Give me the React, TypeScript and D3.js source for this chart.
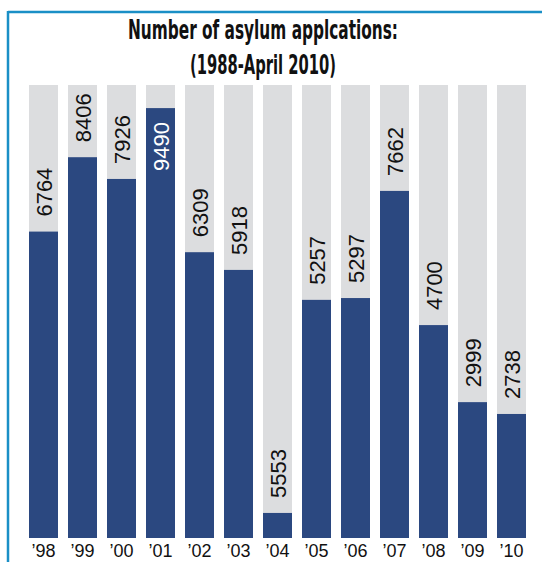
import React from "react";
import * as d3 from "d3";

const years = ["’98", "’99", "’00", "’01", "’02", "’03", "’04", "’05", "’06", "’07", "’08", "’09", "’10"];
const values = [6764, 8406, 7926, 9490, 6309, 5918, 553, 5257, 5297, 7662, 4700, 2999, 2738];
const valueLabels = ["6764", "8406", "7926", "9490", "6309", "5918", "5553", "5257", "5297", "7662", "4700", "2999", "2738"];
const titleLines = ["Number of asylum applcations:", "(1988-April 2010)"];
const yMax = 10000;

const W = 542;
const H = 562;
const BLUE = "#2b4880";
const GRAY = "#dcdddf";
const FRAME = "#1a8fc6";

export default function App() {
  const x = d3
    .scaleBand<string>()
    .domain(years)
    .range([29, 526])
    .paddingInner(10 / 39)
    .paddingOuter(0);
  const y = d3.scaleLinear().domain([0, yMax]).range([538, 85]);

  const labelFont = 22;
  const gap = 15;
  const bw = x.bandwidth();

  return (
    <svg
      width={W}
      height={H}
      style={{ position: "absolute", left: 0, top: 0, background: "#fff" }}
    >
      {/* frame */}
      <line x1={8} x2={W} y1={12} y2={12} stroke={FRAME} strokeWidth={2.5} />
      <line x1={8} x2={8} y1={11} y2={H} stroke={FRAME} strokeWidth={2.5} />

      {/* title */}
      {titleLines.map((t, i) => (
        <text
          key={t}
          x={263}
          y={39 + i * 35}
          textAnchor="middle"
          fontFamily="'Liberation Sans Narrow', 'DejaVu Sans Condensed', 'Liberation Sans', sans-serif"
          fontWeight="bold"
          fontSize={26}
          textLength={i === 0 ? 270 : 146}
          lengthAdjust="spacingAndGlyphs"
          fill="#111"
        >
          {t}
        </text>
      ))}

      {/* background columns */}
      {years.map((yr) => (
        <rect
          key={"bg" + yr}
          x={x(yr)}
          y={y(yMax)}
          width={bw}
          height={y(0) - y(yMax)}
          fill={GRAY}
        />
      ))}

      {/* bars */}
      {years.map((yr, i) => (
        <rect
          key={"bar" + yr}
          x={x(yr)}
          y={y(values[i])}
          width={bw}
          height={y(0) - y(values[i])}
          fill={BLUE}
        />
      ))}

      {/* value labels */}
      {years.map((yr, i) => {
        const cx = (x(yr) as number) + bw / 2;
        const top = y(values[i]);
        const textLen = valueLabels[i].length * 0.556 * labelFont;
        const inside = top - gap - textLen < y(yMax);
        const ty = inside ? top + gap - 1 : top - gap;
        return (
          <text
            key={"lab" + yr}
            transform={`translate(${cx + 8.5},${ty}) rotate(-90)`}
            textAnchor={inside ? "end" : "start"}
            fontFamily="'Liberation Sans', Arial, sans-serif"
            fontSize={labelFont}
            fill={inside ? "#fff" : "#111"}
          >
            {valueLabels[i]}
          </text>
        );
      })}

      {/* x tick labels */}
      {years.map((yr) => (
        <text
          key={"tick" + yr}
          x={(x(yr) as number) + bw / 2}
          y={557}
          textAnchor="middle"
          fontFamily="'Liberation Sans', Arial, sans-serif"
          fontSize={18}
          fill="#111"
        >
          {yr}
        </text>
      ))}
    </svg>
  );
}
